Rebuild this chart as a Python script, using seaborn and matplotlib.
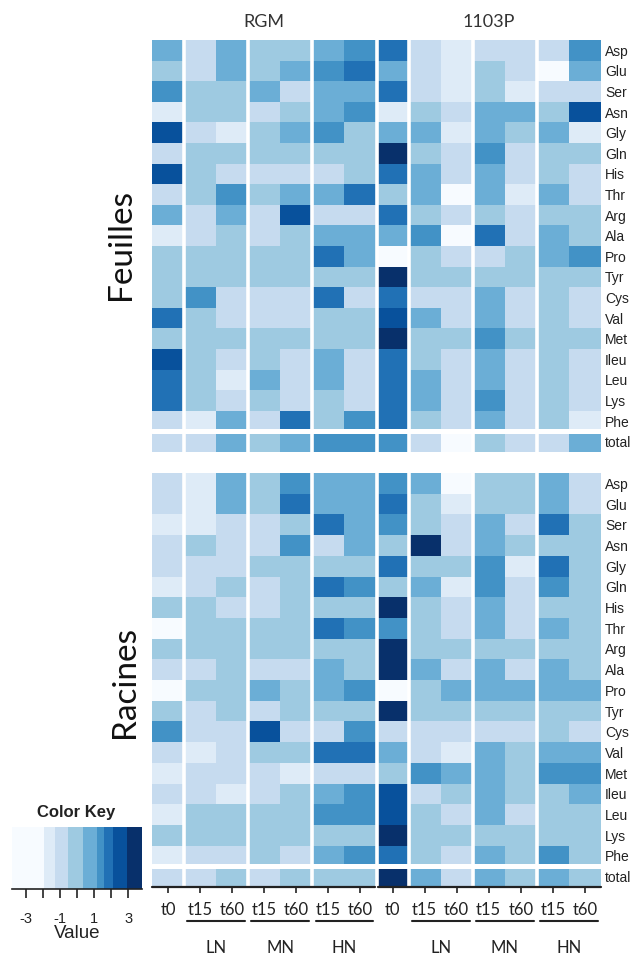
import numpy as np
import pandas as pd
import matplotlib
matplotlib.use("Agg")
import matplotlib.pyplot as plt
import matplotlib.transforms as mtransforms
from matplotlib.colors import ListedColormap
import seaborn as sns

# ---------------- data ----------------
amino_acids = ["Asp", "Glu", "Ser", "Asn", "Gly", "Gln", "His", "Thr", "Arg", "Ala",
               "Pro", "Tyr", "Cys", "Val", "Met", "Ileu", "Leu", "Lys", "Phe", "total"]
genotypes = ["RGM", "1103P"]
time_labels = ["t0", "t15", "t60", "t15", "t60", "t15", "t60"]
n_levels = ["LN", "MN", "HN"]
organs = ["Feuilles", "Racines"]

# columns: t0, LN t15, LN t60, MN t15, MN t60, HN t15, HN t60
feuilles_rgm = [
    [0.75, -0.9, 0.75, -0.1, -0.1, 0.75, 1.4],
    [-0.1, -0.9, 0.75, -0.1, 0.75, 1.4, 1.85],
    [1.4, -0.1, -0.1, 0.75, -0.9, 0.75, 0.75],
    [-1.6, -0.1, -0.1, -0.9, -0.1, 0.75, 1.4],
    [2.5, -0.9, -1.6, -0.1, 0.75, 1.4, -0.1],
    [-0.9, -0.1, -0.1, -0.1, -0.1, -0.1, -0.1],
    [2.5, -0.1, -0.9, -0.9, -0.9, -0.9, -0.1],
    [-0.9, -0.1, 1.4, -0.1, 0.75, 0.75, 1.85],
    [0.75, -0.9, 0.75, -0.9, 2.5, -0.9, -0.9],
    [-1.6, -0.9, -0.1, -0.9, -0.1, 0.75, 0.75],
    [-0.1, -0.1, -0.1, -0.1, -0.1, 1.85, 0.75],
    [-0.1, -0.1, -0.1, -0.1, -0.1, -0.1, -0.1],
    [-0.1, 1.4, -0.9, -0.9, -0.9, 1.85, -0.9],
    [1.85, -0.1, -0.9, -0.9, -0.9, -0.1, -0.1],
    [-0.1, -0.1, -0.1, -0.1, -0.1, -0.1, -0.1],
    [2.5, -0.1, -0.9, -0.1, -0.9, 0.75, -0.9],
    [1.85, -0.1, -1.6, 0.75, -0.9, 0.75, -0.9],
    [1.85, -0.1, -0.9, -0.1, -0.9, -0.1, -0.9],
    [-0.9, -1.6, 0.75, -0.9, 1.85, -0.1, 1.4],
    [-0.9, -0.9, 0.75, -0.1, 0.75, 1.4, 1.4],
]
feuilles_1103p = [
    [1.85, -0.9, -1.6, -0.9, -0.9, -0.9, 1.4],
    [0.75, -0.9, -1.6, -0.1, -0.9, -2.5, 0.75],
    [1.85, -0.9, -1.6, -0.1, -1.6, -0.9, -0.9],
    [-1.6, -0.1, -0.9, 0.75, 0.75, -0.1, 2.5],
    [0.75, 0.75, -1.6, 0.75, -0.1, 0.75, -1.6],
    [3.3, -0.1, -0.9, 1.4, -0.9, -0.1, -0.1],
    [1.85, 0.75, -0.9, 0.75, -0.9, -0.1, -0.9],
    [-0.1, 0.75, -2.5, 0.75, -1.6, 0.75, -0.9],
    [1.85, -0.1, -0.9, -0.1, -0.9, -0.1, -0.1],
    [0.75, 1.4, -2.5, 1.85, -0.9, 0.75, -0.1],
    [-2.5, -0.1, -0.9, -0.9, -0.1, 0.75, 1.4],
    [3.3, -0.1, -0.1, -0.1, -0.1, -0.1, -0.1],
    [1.85, -0.9, -0.9, 0.75, -0.9, -0.1, -0.9],
    [2.5, 0.75, -0.9, 0.75, -0.9, -0.1, -0.9],
    [3.3, -0.1, -0.1, 1.4, -0.1, -0.1, -0.1],
    [1.85, -0.1, -0.9, 0.75, -0.9, -0.1, -0.9],
    [1.85, 0.75, -0.9, 0.75, -0.9, -0.1, -0.9],
    [1.85, 0.75, -0.9, 1.4, -0.9, -0.1, -0.9],
    [1.85, -0.1, -0.9, 0.75, -0.9, -0.1, -1.6],
    [1.4, -0.9, -2.5, -0.1, -0.9, -0.9, 0.75],
]
racines_rgm = [
    [-0.9, -1.6, 0.75, -0.1, 1.4, 0.75, 0.75],
    [-0.9, -1.6, 0.75, -0.1, 1.85, 0.75, 0.75],
    [-1.6, -1.6, -0.9, -0.9, -0.1, 1.85, 0.75],
    [-0.9, -0.1, -0.9, -0.9, 1.4, -0.9, 0.75],
    [-0.9, -0.9, -0.9, -0.1, -0.1, -0.1, -0.1],
    [-1.6, -0.9, -0.1, -0.9, -0.1, 1.85, 1.4],
    [-0.1, -0.1, -0.9, -0.9, -0.1, -0.1, -0.1],
    [-2.5, -0.1, -0.1, -0.1, -0.1, 1.85, 1.4],
    [-0.1, -0.1, -0.1, -0.1, -0.1, -0.1, -0.1],
    [-0.9, -0.9, -0.1, -0.9, -0.9, 0.75, -0.1],
    [-2.5, -0.1, -0.1, 0.75, -0.1, 0.75, 1.4],
    [-0.1, -0.9, -0.1, -0.9, -0.1, -0.1, -0.1],
    [1.4, -0.9, -0.9, 2.5, -0.9, -0.9, 1.4],
    [-0.9, -1.6, -0.9, -0.1, -0.1, 1.85, 1.85],
    [-1.6, -0.9, -0.9, -0.9, -1.6, -0.9, -0.9],
    [-0.9, -0.9, -1.6, -0.9, -0.1, 0.75, 1.4],
    [-1.6, -0.1, -0.1, -0.1, -0.1, 1.4, 1.4],
    [-0.1, -0.1, -0.1, -0.1, -0.1, -0.1, -0.1],
    [-1.6, -0.9, -0.9, -0.1, -0.9, 0.75, 1.4],
    [-0.9, -0.9, -0.1, -0.9, -0.1, -0.1, -0.1],
]
racines_1103p = [
    [1.4, 0.75, -2.5, -0.1, -0.1, 0.75, -0.9],
    [1.85, -0.1, -1.6, -0.1, -0.1, 0.75, -0.9],
    [1.4, -0.1, -0.9, 0.75, -0.9, 1.85, -0.1],
    [-0.1, 3.3, -0.9, 0.75, -0.1, -0.1, -0.1],
    [1.85, -0.1, -0.1, 1.4, -1.6, 1.85, -0.1],
    [-0.1, 0.75, -1.6, 1.4, -0.9, 1.4, -0.1],
    [3.3, -0.1, -0.9, 0.75, -0.9, -0.1, -0.1],
    [1.4, -0.1, -0.9, 0.75, -0.9, 0.75, -0.1],
    [3.3, -0.1, -0.1, -0.1, -0.1, -0.1, -0.1],
    [3.3, 0.75, -0.9, 0.75, -0.9, 0.75, -0.1],
    [-2.5, -0.1, 0.75, 0.75, 0.75, 0.75, 0.75],
    [3.3, -0.1, -0.1, -0.1, -0.1, -0.1, -0.1],
    [-0.9, -0.9, -0.9, -0.9, -0.9, -0.1, -0.9],
    [0.75, -0.9, -1.6, 0.75, -0.1, 0.75, 0.75],
    [-0.1, 1.4, 0.75, 0.75, -0.1, 1.4, 1.4],
    [2.5, -0.9, -0.1, 0.75, -0.1, -0.1, 0.75],
    [2.5, -0.1, -0.9, 0.75, -0.9, -0.1, -0.1],
    [3.3, -0.1, -0.1, -0.1, -0.1, -0.1, -0.1],
    [1.85, -0.1, -0.9, 0.75, -0.1, 1.4, -0.1],
    [3.3, 0.75, -0.9, 0.75, -0.1, 0.75, -0.1],
]

key_colors = ["#f7fbff", "#deebf7", "#c6dbef", "#9ecae1", "#6baed6",
              "#4292c6", "#2171b5", "#08519c", "#08306b"]
key_breaks = [-3.8, -1.9, -1.26, -0.5, 0.35, 1.15, 1.6, 2.1, 2.9, 3.8]

# ---------------- style ----------------
sns.set_theme(style="white")
plt.rcParams["font.family"] = ["Liberation Sans", "DejaVu Sans"]
CAL = ["Lato", "DejaVu Sans"]

# stepped colormap following the key's breaks
VMIN, VMAX = key_breaks[0], key_breaks[-1]
grid = np.linspace(VMIN, VMAX, 761)
centers = (grid[:-1] + grid[1:]) / 2
idx = np.clip(np.searchsorted(key_breaks, centers, side="right") - 1, 0, len(key_colors) - 1)
cmap = ListedColormap([key_colors[i] for i in idx])

W, H = 641, 958
fig = plt.figure(figsize=(W / 100, H / 100), dpi=100)


def rect(x0, y0, x1, y1):
    return [x0 / W, 1 - y1 / H, (x1 - x0) / W, (y1 - y0) / H]


col_names = [f"{g} {i} {t}" for g in genotypes for i, t in enumerate(time_labels)]
panels = [(organs[0], feuilles_rgm, feuilles_1103p, rect(152, 40, 601, 452)),
          (organs[1], racines_rgm, racines_1103p, rect(152, 473, 601, 887))]

axes = []
for organ, rgm, p1103, r in panels:
    ax = fig.add_axes(r)
    df = pd.DataFrame(np.hstack([np.array(rgm), np.array(p1103)]),
                      index=amino_acids, columns=col_names)
    sns.heatmap(df, ax=ax, cmap=cmap, vmin=VMIN, vmax=VMAX, cbar=False,
                xticklabels=False, yticklabels=True)
    for xv in [1, 3, 5, 7, 8, 10, 12]:
        ax.axvline(xv, color="white", lw=2.6)
    ax.axhline(19, color="white", lw=3.6)
    ax.yaxis.tick_right()
    ax.tick_params(axis="y", length=0, pad=3, labelsize=10)
    ax.set_yticklabels(amino_acids, rotation=0, color="#222222")
    ax.set_ylabel("")
    ax.set_xlabel("")
    axes.append(ax)

ax_top, ax_bot = axes

# organ labels
fig.text(121 / W, 1 - 244 / H, organs[0], rotation=90, ha="center", va="center",
         fontsize=24, family=CAL, color="#111111")
fig.text(125 / W, 1 - 682 / H, organs[1], rotation=90, ha="center", va="center",
         fontsize=24, family=CAL, color="#111111")

# genotype titles
ttop = mtransforms.blended_transform_factory(ax_top.transData, ax_top.transAxes)
for gi, g in enumerate(genotypes):
    ax_top.text(3.5 + 7 * gi, 1 + (40 - 22) / 412, g, transform=ttop, ha="center",
                va="center", fontsize=13, family=CAL, color="#333333")

# bottom axis: ticks, labels, group underlines
ax_bot.set_xticks(np.arange(14) + 0.5)
ax_bot.set_xticklabels(time_labels * 2, rotation=0, family=CAL, fontsize=12, color="#222222")
ax_bot.tick_params(axis="x", bottom=True, length=4, width=1.2, color="#222222",
                   direction="out", pad=7)
ax_bot.plot([0, 6.96], [20, 20], color="#222222", lw=1.6, clip_on=False)
ax_bot.plot([7.04, 14], [20, 20], color="#222222", lw=1.6, clip_on=False)

tb = mtransforms.blended_transform_factory(ax_bot.transData, ax_bot.transAxes)
groups = [(1, 3), (3, 5), (5, 7), (8, 10), (10, 12), (12, 14)]
for k, (a, b) in enumerate(groups):
    ax_bot.plot([a + 0.1, b - 0.1], [-(921 - 887) / 414] * 2, transform=tb,
                color="#222222", lw=1.5, clip_on=False)
    ax_bot.text((a + b) / 2, -(948 - 887) / 414, n_levels[k % 3], transform=tb,
                ha="center", va="center", fontsize=12, family=CAL, color="#222222")

# color key
kax = fig.add_axes(rect(12, 827, 142, 889))
kax.pcolormesh(grid, [0, 1], centers[None, :], cmap=cmap, vmin=VMIN, vmax=VMAX)
kax.set_xlim(VMIN, VMAX)
kax.set_ylim(0, 1)
kax.set_yticks([])
for s in ["top", "left", "right"]:
    kax.spines[s].set_visible(False)
kax.spines["bottom"].set_visible(True)
kax.spines["bottom"].set_color("#222222")
kax.spines["bottom"].set_linewidth(1.2)
kax.set_xticks([-3, -2, -1, 0, 1, 2, 3])
kax.set_xticklabels(["-3", "", "-1", "", "1", "", "3"], fontsize=10.5, color="#222222")
kax.tick_params(axis="x", bottom=True, length=6.5, width=1.2, color="#222222",
                direction="out", pad=10)
kax.set_xlabel("Value", fontsize=13.5, labelpad=-1, color="#222222")
fig.text(76 / W, 1 - 812 / H, "Color Key", ha="center", va="center",
         fontsize=12, fontweight="bold", color="#222222")

fig.savefig("out.png", dpi=100, facecolor="white")
